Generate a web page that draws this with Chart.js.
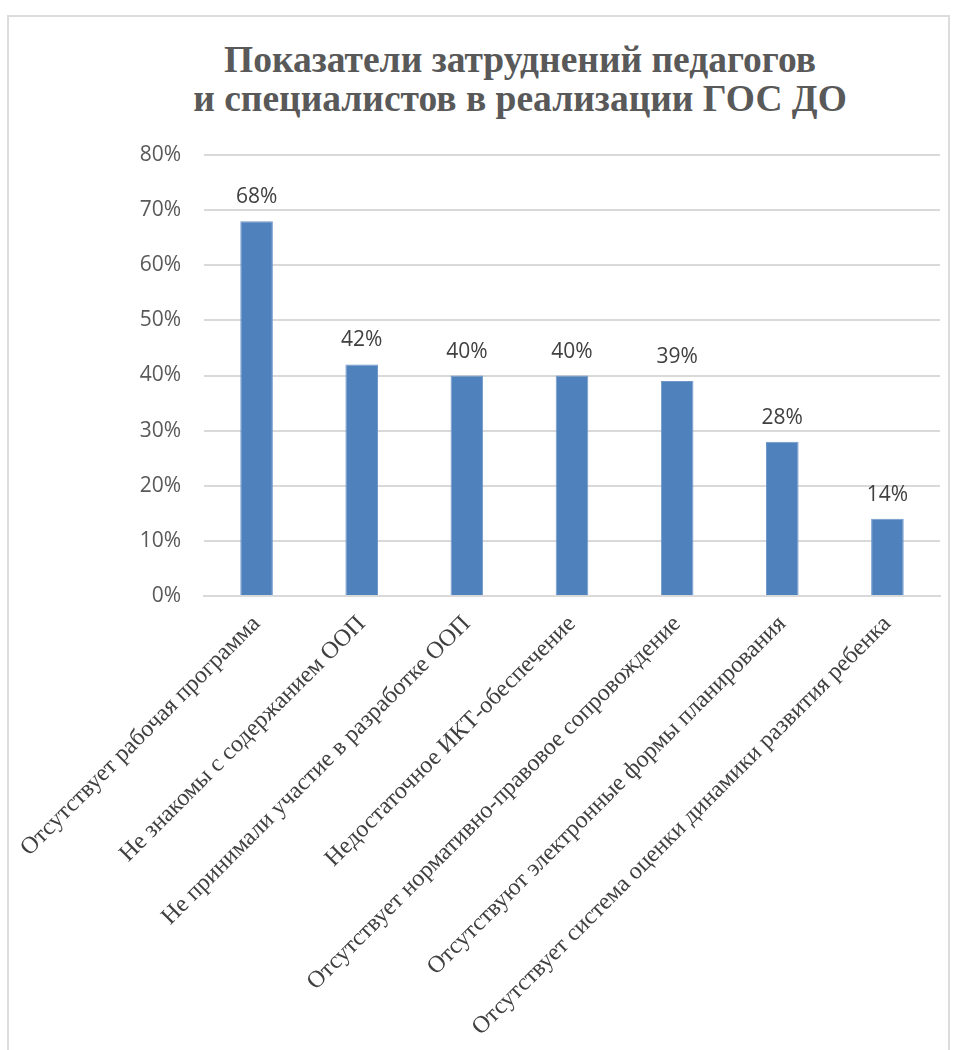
<!DOCTYPE html>
<html>
<head>
<meta charset="utf-8">
<script src="https://cdn.jsdelivr.net/npm/chart.js@4.4.0/dist/chart.umd.min.js"></script>
<style>
  html, body { margin: 0; padding: 0; background: #fff; }
  body { width: 956px; height: 1050px; position: relative; overflow: hidden; }
  #frame {
    position: absolute; left: 7px; top: 15px; width: 943px; height: 1060px;
    border: 2px solid #dcdcdc; box-sizing: border-box;
  }
  #title {
    position: absolute; left: 0; top: 40px; width: 1040px; text-align: center;
    font: bold 37.5px 'Liberation Serif', serif; line-height: 39px; color: #595959;
  }
  #wrap { position: absolute; left: 8px; top: 16px; width: 942px; height: 1034px; }
</style>
</head>
<body>
<div id="frame"></div>
<div id="title">Показатели затруднений педагогов<br>и специалистов в реализации ГОС ДО</div>
<div id="wrap"><canvas id="chart"></canvas></div>
<script>
const categories = [
  'Отсутствует рабочая программа',
  'Не знакомы с содержанием ООП',
  'Не принимали участие в разработке ООП',
  'Недостаточное ИКТ-обеспечение',
  'Отсутствует нормативно-правовое сопровождение',
  'Отсутствуют электронные формы планирования',
  'Отсутствует система оценки динамики развития ребенка'
];
const values = [68, 42, 40, 40, 39, 28, 14];
const yTicks = [0, 10, 20, 30, 40, 50, 60, 70, 80];

// подписи значений над столбцами
const barLabels = {
  id: 'barLabels',
  afterDatasetsDraw(chart) {
    const ctx = chart.ctx;
    const meta = chart.getDatasetMeta(0);
    ctx.save();
    ctx.font = '21px "Open Sans"';
    ctx.fillStyle = '#404040';
    ctx.textAlign = 'center';
    ctx.textBaseline = 'alphabetic';
    meta.data.forEach((bar, i) => {
      ctx.fillText(values[i] + '%', bar.x, bar.y - 18);
    });
    ctx.restore();
  }
};

new Chart(document.getElementById('chart'), {
  type: 'bar',
  data: {
    labels: categories,
    datasets: [{
      data: values,
      backgroundColor: '#4F81BD',
      borderColor: '#6f97c9',
      borderWidth: 1,
      barPercentage: 0.31,
      categoryPercentage: 1
    }]
  },
  options: {
    responsive: true,
    maintainAspectRatio: false,
    animation: false,
    layout: { padding: { top: 139, right: 10, left: 0, bottom: 0 } },
    plugins: {
      legend: { display: false },
      tooltip: { enabled: false },
      title: { display: false }
    },
    scales: {
      x: {
        grid: { display: false },
        border: { color: '#d9d9d9', width: 2 },
        ticks: {
          autoSkip: false,
          minRotation: 45,
          maxRotation: 45,
          padding: 6,
          color: '#404040',
          font: { family: 'Liberation Serif', size: 24 }
        },
        afterFit(s) { s.height = 454; s.paddingLeft = 0; s.paddingRight = 0; }
      },
      y: {
        min: 0,
        max: 80,
        afterBuildTicks(s) { s.ticks = yTicks.map(v => ({ value: v })); },
        grid: { color: '#d9d9d9', lineWidth: 2, drawTicks: false },
        border: { display: false },
        ticks: {
          padding: 23,
          color: '#595959',
          font: { family: 'Open Sans', size: 21 },
          callback: v => v + '%'
        },
        afterFit(s) { s.width = 196; }
      }
    }
  },
  plugins: [barLabels]
});
</script>
</body>
</html>
